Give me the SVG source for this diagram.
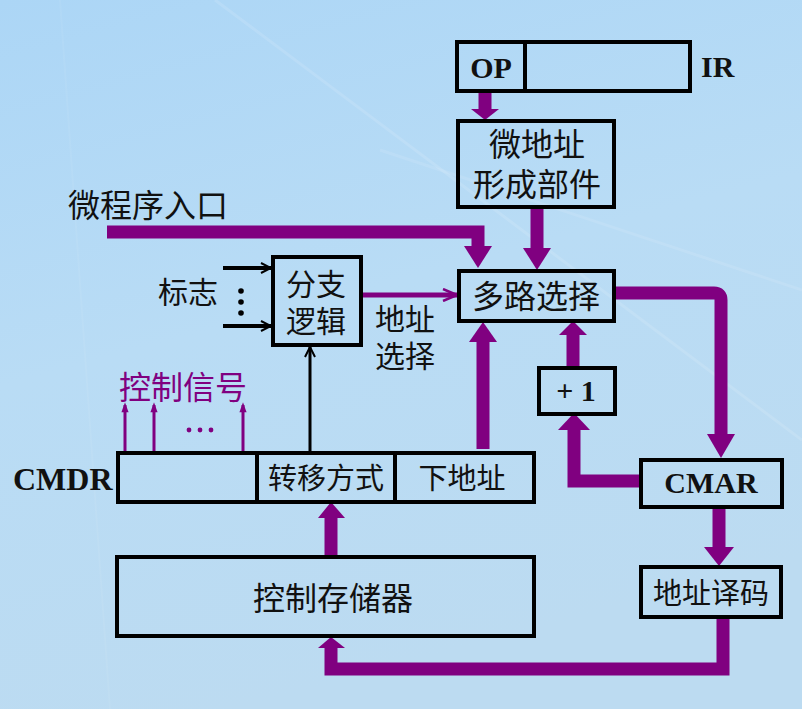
<svg xmlns="http://www.w3.org/2000/svg" width="802" height="709" viewBox="0 0 802 709">
  <defs>
    <linearGradient id="bg" x1="0" y1="0" x2="0.3" y2="1">
      <stop offset="0" stop-color="#acd6f6"/>
      <stop offset="0.5" stop-color="#b9dcf5"/>
      <stop offset="1" stop-color="#bcdbf1"/>
    </linearGradient>
    <marker id="openBlack" viewBox="0 0 12 12" refX="11" refY="6" markerWidth="12" markerHeight="12" markerUnits="userSpaceOnUse" orient="auto">
      <path d="M1,1 L11,6 L1,11" fill="none" stroke="#000" stroke-width="2"/>
    </marker>
    <marker id="openPurple" viewBox="0 0 16 14" refX="15" refY="7" markerWidth="16" markerHeight="14" markerUnits="userSpaceOnUse" orient="auto">
      <path d="M1,1 L15,7 L1,13" fill="none" stroke="#800080" stroke-width="2.5"/>
    </marker>
    <marker id="smallPurple" viewBox="0 0 10 14" refX="10" refY="5" markerWidth="14" markerHeight="10" markerUnits="userSpaceOnUse" orient="auto">
      <path d="M0,0 L14,5 L0,10 Z" fill="#800080"/>
    </marker>
    <style>
      .box { fill: none; stroke: #000; stroke-width: 4; }
      .cjk { font-family: "Noto Sans CJK SC", "Noto Sans", sans-serif; font-size: 30px; fill: #111; dominant-baseline: central; text-anchor: middle; }
      .big { font-size: 32px; }
      .mid { font-size: 29px; }
      .lat { font-family: "Liberation Serif", "Times New Roman", serif; font-weight: bold; font-size: 30px; fill: #111; }
      .wide { fill: none; stroke: #800080; stroke-width: 13; }
      .head { fill: #800080; }
    </style>
  </defs>

  <!-- backdrop -->
  <rect width="802" height="709" fill="url(#bg)"/>
  <path d="M215,0 L802,440" stroke="#ffffff" stroke-opacity="0.12" stroke-width="3" fill="none"/>
  <path d="M60,0 L110,709" stroke="#ffffff" stroke-opacity="0.06" stroke-width="2" fill="none"/>
  <path d="M380,150 L802,290" stroke="#ffffff" stroke-opacity="0.1" stroke-width="3" fill="none"/>

  <!-- connectors -->
  <g id="connectors">
    <!-- OP -> micro-address unit -->
    <path class="wide" d="M485,92 V110"/>
    <polygon class="head" points="471,109 499,109 485,120"/>
    <!-- micro-address unit -> mux -->
    <path class="wide" d="M537,207 V250"/>
    <polygon class="head" points="523,248 551,248 537,270"/>
    <!-- entry -> mux -->
    <path class="wide" d="M107,232 H478 V248" stroke-linejoin="miter"/>
    <polygon class="head" points="464,246 492,246 478,268"/>
    <!-- next address -> mux -->
    <path class="wide" d="M483,449 V340"/>
    <polygon class="head" points="469,342 497,342 483,322"/>
    <!-- mux -> CMAR -->
    <path class="wide" d="M615,293 H714 Q721,293 721,300 V436"/>
    <polygon class="head" points="707,434 735,434 721,458"/>
    <!-- CMAR -> +1 -->
    <path class="wide" d="M640,481 H574 V428"/>
    <polygon class="head" points="558,430 590,430 574,413"/>
    <!-- +1 -> mux -->
    <path class="wide" d="M573,367 V333"/>
    <polygon class="head" points="559,335 587,335 573,321"/>
    <!-- CMAR -> decoder -->
    <path class="wide" d="M719,507 V548"/>
    <polygon class="head" points="704,547 734,547 719,566"/>
    <!-- decoder -> control store -->
    <path class="wide" d="M723,617 V669 H331 V645"/>
    <polygon class="head" points="318,648 345,648 331,637"/>
    <!-- control store -> CMDR -->
    <path class="wide" d="M331,557 V515"/>
    <polygon class="head" points="318,518 345,518 331,502"/>

    <!-- branch logic -> mux -->
    <line x1="362" y1="295" x2="457" y2="295" stroke="#800080" stroke-width="5" marker-end="url(#openPurple)"/>
    <!-- flag inputs -->
    <line x1="223" y1="268" x2="271" y2="268" stroke="#000" stroke-width="4" marker-end="url(#openBlack)"/>
    <line x1="223" y1="326" x2="271" y2="326" stroke="#000" stroke-width="4" marker-end="url(#openBlack)"/>
    <!-- transfer mode -> branch logic -->
    <line x1="310" y1="452" x2="310" y2="347" stroke="#000" stroke-width="3" marker-end="url(#openBlack)"/>
    <!-- control signals -->
    <line x1="125" y1="452" x2="125" y2="405" stroke="#800080" stroke-width="3" marker-end="url(#smallPurple)"/>
    <line x1="154" y1="452" x2="154" y2="405" stroke="#800080" stroke-width="3" marker-end="url(#smallPurple)"/>
    <line x1="243" y1="452" x2="243" y2="405" stroke="#800080" stroke-width="3" marker-end="url(#smallPurple)"/>
  </g>

  <!-- instruction register -->
  <g id="ir">
    <rect class="box" x="457" y="42" width="233" height="49"/>
    <line x1="525" y1="42" x2="525" y2="91" stroke="#000" stroke-width="4"/>
    <text class="lat" x="491" y="78" text-anchor="middle">OP</text>
    <text class="lat" x="701" y="77">IR</text>
  </g>

  <!-- micro-address forming unit -->
  <g id="uaddr">
    <rect class="box" x="458" y="121" width="156" height="86"/>
    <text class="cjk big" x="537" y="142">微地址</text>
    <text class="cjk big" x="537" y="182">形成部件</text>
  </g>

  <!-- entry label -->
  <g id="entry">
    <text class="cjk big" x="148" y="203">微程序入口</text>
  </g>

  <!-- multiplexer -->
  <g id="mux">
    <rect class="box" x="459" y="271" width="155" height="50"/>
    <text class="cjk big" x="536" y="294">多路选择</text>
  </g>

  <!-- branch logic -->
  <g id="branch">
    <rect class="box" x="273" y="257" width="88" height="88"/>
    <text class="cjk" x="316" y="282">分支</text>
    <text class="cjk" x="316" y="319">逻辑</text>
  </g>

  <!-- flags -->
  <g id="flags">
    <text class="cjk" x="188" y="290">标志</text>
    <circle cx="241" cy="291" r="2.8" fill="#000"/>
    <circle cx="241" cy="302" r="2.8" fill="#000"/>
    <circle cx="241" cy="313" r="2.8" fill="#000"/>
  </g>

  <!-- address select label -->
  <g id="addrsel">
    <text class="cjk" x="405" y="317">地址</text>
    <text class="cjk" x="405" y="354">选择</text>
  </g>

  <!-- +1 -->
  <g id="inc">
    <rect class="box" x="539" y="368" width="76" height="46"/>
    <text class="lat" x="576" y="401" text-anchor="middle">+ 1</text>
  </g>

  <!-- control signals label -->
  <g id="signals">
    <text class="cjk big" x="183" y="385" style="fill:#800080">控制信号</text>
    <circle cx="189" cy="430" r="2.4" fill="#800080"/>
    <circle cx="200" cy="430" r="2.4" fill="#800080"/>
    <circle cx="211" cy="430" r="2.4" fill="#800080"/>
  </g>

  <!-- microinstruction register -->
  <g id="cmdr">
    <rect class="box" x="118" y="453" width="416" height="49"/>
    <line x1="257" y1="453" x2="257" y2="502" stroke="#000" stroke-width="4"/>
    <line x1="395" y1="453" x2="395" y2="502" stroke="#000" stroke-width="4"/>
    <text class="lat" x="13" y="490" style="font-size:32px">CMDR</text>
    <text class="cjk mid" x="326" y="476">转移方式</text>
    <text class="cjk mid" x="462" y="476">下地址</text>
  </g>

  <!-- CMAR -->
  <g id="cmar">
    <rect class="box" x="641" y="460" width="141" height="47"/>
    <text class="lat" x="711" y="493" text-anchor="middle">CMAR</text>
  </g>

  <!-- address decoder -->
  <g id="decoder">
    <rect class="box" x="641" y="567" width="140" height="50"/>
    <text class="cjk mid" x="711" y="591">地址译码</text>
  </g>

  <!-- control store -->
  <g id="store">
    <rect class="box" x="117" y="557" width="417" height="79"/>
    <text class="cjk big" x="333" y="596">控制存储器</text>
  </g>
</svg>
